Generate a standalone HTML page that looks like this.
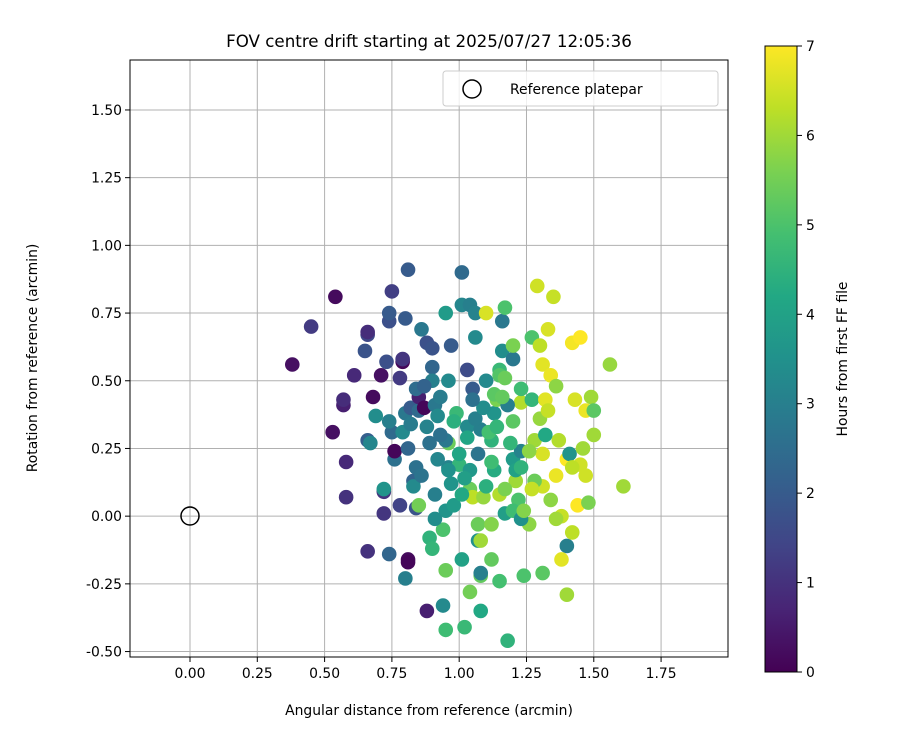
<!DOCTYPE html>
<html><head><meta charset="utf-8">
<style>
body{margin:0;background:#fff;}
svg{display:block;font-family:"DejaVu Sans","Liberation Sans",sans-serif;}
</style></head>
<body>
<svg id="chart" width="900" height="750" xmlns="http://www.w3.org/2000/svg">
<defs>
<linearGradient id="vir" x1="0" y1="1" x2="0" y2="0">
<stop offset="0" stop-color="#440154"/><stop offset="0.1" stop-color="#482475"/><stop offset="0.2" stop-color="#414487"/><stop offset="0.3" stop-color="#355f8d"/><stop offset="0.4" stop-color="#2a788e"/><stop offset="0.5" stop-color="#21918c"/><stop offset="0.6" stop-color="#22a884"/><stop offset="0.7" stop-color="#44bf70"/><stop offset="0.8" stop-color="#7ad151"/><stop offset="0.9" stop-color="#bddf26"/><stop offset="1" stop-color="#fde725"/>
</linearGradient>
<clipPath id="clip"><rect x="130" y="60" width="598" height="597"/></clipPath>
</defs>
<text x="429" y="47" font-size="16.7" text-anchor="middle">FOV centre drift starting at 2025/07/27 12:05:36</text>
<g id="grid"></g>
<g id="points" clip-path="url(#clip)"></g>
<circle cx="190" cy="516" r="9" fill="none" stroke="#000" stroke-width="1.5"/>
<rect x="130" y="60" width="598" height="597" fill="none" stroke="#000" stroke-width="1"/>
<g id="xticks"></g>
<g id="yticks"></g>
<text x="429" y="715" font-size="13.9" text-anchor="middle">Angular distance from reference (arcmin)</text>
<text transform="translate(37,358) rotate(-90)" font-size="13.9" text-anchor="middle">Rotation from reference (arcmin)</text>
<g>
<rect x="443" y="71" width="275" height="35" rx="3" fill="#fff" fill-opacity="0.8" stroke="#ccc"/>
<circle cx="472" cy="89" r="9" fill="none" stroke="#000" stroke-width="1.5"/>
<text x="510" y="94" font-size="13.9">Reference platepar</text>
</g>
<rect x="765" y="46" width="32" height="626" fill="url(#vir)" stroke="#000" stroke-width="1"/>
<g id="cticks"></g>
<text transform="translate(847,359) rotate(-90)" font-size="13.9" text-anchor="middle">Hours from first FF file</text>
</svg>
<script>
const xTicks=[0,0.25,0.5,0.75,1.0,1.25,1.5,1.75];
const yTicks=[-0.5,-0.25,0,0.25,0.5,0.75,1.0,1.25,1.5];
const cTicks=[0,1,2,3,4,5,6,7];
const ptX=[0.38,0.45,0.54,0.53,0.57,0.57,0.58,0.58,0.61,0.66,0.65,0.66,0.68,0.66,0.67,0.66,0.71,0.69,0.72,0.72,0.72,0.73,0.74,0.74,0.75,0.74,0.75,0.74,0.76,0.76,0.78,0.79,0.79,0.80,0.79,0.80,0.78,0.81,0.81,0.80,0.81,0.81,0.82,0.83,0.83,0.84,0.84,0.85,0.86,0.85,0.87,0.88,0.88,0.90,0.90,0.89,0.90,0.89,0.90,0.91,0.91,0.92,0.93,0.94,0.94,0.95,0.96,0.95,0.96,0.96,0.97,0.95,0.99,1.00,1.01,1.01,1.01,1.02,1.03,1.03,1.04,1.04,1.04,1.05,1.05,1.06,1.06,1.07,1.07,1.07,1.08,1.08,1.08,1.08,1.09,1.10,1.12,1.12,1.13,1.14,1.15,1.16,1.16,1.17,1.15,1.18,1.20,1.20,1.20,1.20,1.21,1.22,1.23,1.23,1.27,1.29,1.30,1.31,1.31,1.34,1.33,1.35,1.36,1.37,1.40,1.41,1.42,1.43,1.45,1.45,1.47,1.49,1.56,1.61,1.50,1.40,1.40,1.38,1.42,1.38,1.44,1.36,1.31,1.28,1.26,1.24,1.31,1.21,1.17,1.12,1.15,0.95,0.85,0.91,0.98,1.01,1.04,1.10,1.13,1.17,1.20,1.23,1.24,1.00,0.96,0.95,1.08,1.10,1.13,1.15,1.17,1.18,1.23,1.27,1.30,1.28,1.32,1.33,1.23,1.27,1.34,1.36,1.42,1.46,1.47,1.48,1.50,1.32,0.84,0.88,0.93,0.98,1.02,1.06,1.11,1.16,1.19,1.26,0.86,0.92,0.97,1.03,1.09,1.14,0.82,0.87,1.05,1.12];
const ptY=[0.56,0.70,0.81,0.31,0.41,0.43,0.20,0.07,0.52,0.67,0.61,0.68,0.44,0.28,0.27,-0.13,0.52,0.37,0.09,0.01,0.10,0.57,0.72,0.75,0.83,-0.14,0.31,0.35,0.21,0.24,0.51,0.57,0.58,0.73,0.31,0.38,0.04,-0.16,-0.17,-0.23,0.91,0.25,0.40,0.13,0.11,0.18,0.03,0.39,0.69,0.44,0.40,-0.35,0.64,0.62,0.55,0.27,0.50,-0.08,-0.12,0.08,0.41,0.37,0.44,-0.05,-0.33,-0.42,0.50,-0.20,0.18,0.27,0.63,0.75,0.38,0.19,-0.16,0.90,0.78,-0.41,0.33,0.54,0.78,-0.28,0.10,0.07,0.47,0.66,0.75,0.23,-0.09,-0.03,-0.09,-0.22,-0.21,-0.35,0.07,0.75,-0.16,0.28,0.38,0.43,0.54,0.72,0.61,0.77,-0.24,-0.46,0.58,0.63,0.35,0.21,0.13,0.06,0.24,0.42,0.66,0.85,0.63,0.56,0.23,0.52,0.69,0.81,0.48,0.28,0.21,0.23,0.64,0.43,0.19,0.66,0.39,0.44,0.56,0.11,0.30,-0.11,-0.29,-0.16,-0.06,0.00,0.04,-0.01,0.11,0.13,-0.03,-0.22,-0.21,0.17,0.01,-0.03,0.08,0.02,0.04,-0.01,0.04,0.08,0.17,0.11,0.17,0.10,0.02,-0.01,0.02,0.23,0.17,0.28,0.32,0.50,0.45,0.52,0.51,0.41,0.47,0.43,0.36,0.28,0.43,0.39,0.18,0.10,0.06,0.15,0.18,0.25,0.15,0.05,0.39,0.30,0.47,0.33,0.30,0.35,0.14,0.36,0.31,0.44,0.27,0.24,0.15,0.21,0.12,0.29,0.40,0.33,0.34,0.48,0.43,0.20];
const ptHours=[0.3,1.2,0.2,0.3,0.6,0.9,0.8,1.0,0.8,1.5,1.8,0.9,0.2,2.1,3.2,1.0,0.3,3.4,1.1,1.1,3.6,1.7,1.7,2.0,1.3,2.3,2.4,3.0,2.6,0.1,1.2,0.1,1.1,2.0,3.3,2.8,1.4,0.2,0.1,3.0,2.0,2.3,2.0,2.2,3.3,2.6,1.8,2.4,2.8,0.6,0.1,0.6,1.7,1.8,2.3,2.6,3.0,4.5,4.6,3.0,2.8,3.3,2.9,5.0,3.3,4.8,3.3,5.4,3.1,5.4,2.0,3.8,4.7,4.6,4.0,2.4,3.2,4.7,3.3,1.6,3.0,5.5,5.4,6.3,2.0,3.3,3.1,2.7,3.5,5.4,6.0,5.3,3.0,4.2,5.9,6.6,5.3,4.5,3.6,5.6,4.7,2.8,3.4,5.0,4.9,4.5,2.8,5.6,5.2,3.8,6.0,5.0,3.1,6.2,5.0,6.5,6.3,6.7,6.6,6.8,6.6,6.4,5.8,6.2,7.0,3.6,6.9,6.6,6.5,7.0,6.8,6.0,5.9,6.0,6.0,3.0,6.0,6.7,6.3,6.4,7.0,6.0,6.5,5.4,5.8,5.0,5.2,4.0,3.9,5.7,6.2,3.6,5.5,3.4,3.8,4.2,3.7,4.4,4.3,5.6,4.8,3.5,5.7,4.1,3.5,2.8,3.0,3.3,5.2,5.1,5.4,3.0,4.8,4.6,5.9,6.0,6.7,6.4,4.5,6.4,5.8,6.8,6.3,6.0,6.5,5.6,5.2,4.2,2.5,3.1,2.6,4.4,3.9,3.0,4.9,5.3,4.6,5.8,2.7,3.2,3.6,4.1,3.4,4.6,2.9,2.2,2.6,4.8];

const NS="http://www.w3.org/2000/svg";
const X0=130,X1=728,Y0=60,Y1=657;
const xmin=-0.2229,xmax=1.9986,ymin=-0.5201,ymax=1.6845;
function xs(v){return X0+(v-xmin)/(xmax-xmin)*(X1-X0);}
function ys(v){return Y1-(v-ymin)/(ymax-ymin)*(Y1-Y0);}
const CB0=672,CB1=46;
function cs(v){return CB0+(v/7)*(CB1-CB0);}
const vir=[[68,1,84],[72,36,117],[65,68,135],[53,95,141],[42,120,142],[33,145,140],[34,168,132],[68,191,112],[122,209,81],[189,223,38],[253,231,37]];
function color(h){let t=Math.max(0,Math.min(1,h/7))*10;let i=Math.min(9,Math.floor(t));let f=t-i;let a=vir[i],b=vir[i+1];return `rgb(${Math.round(a[0]+(b[0]-a[0])*f)},${Math.round(a[1]+(b[1]-a[1])*f)},${Math.round(a[2]+(b[2]-a[2])*f)})`;}
function mk(tag,attrs,parent){const e=document.createElementNS(NS,tag);for(const k in attrs)e.setAttribute(k,attrs[k]);parent.appendChild(e);return e;}
const grid=document.getElementById('grid'),xt=document.getElementById('xticks'),yt=document.getElementById('yticks'),ct=document.getElementById('cticks'),pts=document.getElementById('points');
xTicks.forEach(v=>{const x=xs(v);
 const g=mk('line',{x1:x,x2:x,y1:Y0,y2:Y1,stroke:'#b0b0b0','stroke-width':1},grid);
 
 
 mk('line',{x1:x,x2:x,y1:Y1,y2:Y1+5,stroke:'#000'},xt);
 const t=mk('text',{x:x,y:Y1+21,'font-size':13.9,'text-anchor':'middle'},xt);t.textContent=v.toFixed(2);
 
 
});
yTicks.forEach(v=>{const y=ys(v);
 const g=mk('line',{x1:X0,x2:X1,y1:y,y2:y,stroke:'#b0b0b0','stroke-width':1},grid);
 
 
 mk('line',{x1:X0-5,x2:X0,y1:y,y2:y,stroke:'#000'},yt);
 const t=mk('text',{x:X0-8,y:y+5,'font-size':13.9,'text-anchor':'end'},yt);t.textContent=v.toFixed(2);
 
 
});
cTicks.forEach(v=>{const y=cs(v);
 mk('line',{x1:797,x2:802,y1:y,y2:y,stroke:'#000'},ct);
 const t=mk('text',{x:806,y:y+5,'font-size':13.9},ct);t.textContent=String(v);
 
 
});
ptX.forEach((v,i)=>{
 const c=mk('circle',{cx:xs(v),cy:ys(ptY[i]),r:7.3,fill:color(ptHours[i])},pts);
 
 
});
</script>
</body></html>
